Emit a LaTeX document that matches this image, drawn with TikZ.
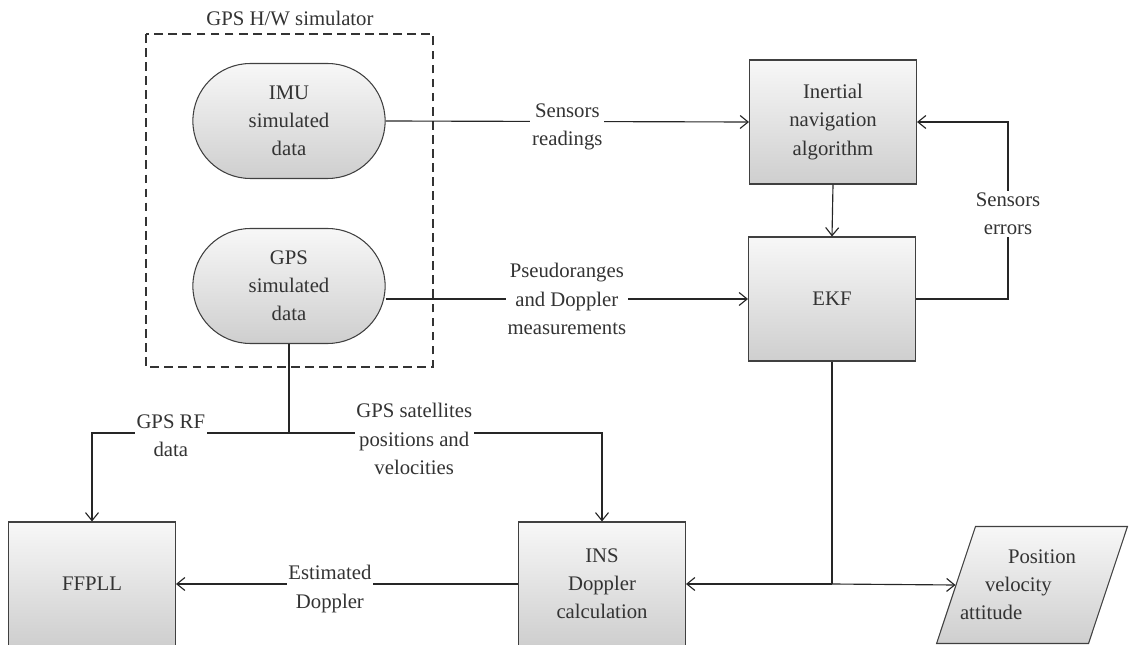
\documentclass[tikz,border=0pt]{standalone}
\usepackage{fontspec}
\setmainfont{Liberation Serif}
\usetikzlibrary{arrows.meta,shapes.misc,shapes.geometric}

\begin{document}
\begin{tikzpicture}[x=0.02cm, y=-0.02cm, >={Straight Barb[length=0.16cm,width=0.26cm]},
        font=\fontsize{11.8}{16}\selectfont,
        every node/.style={text=black!80},
        block/.style={draw=black!75, line width=0.6pt, top color=gray!6, bottom color=gray!38,
            minimum width=3.34cm, minimum height=2.48cm, align=center},
        simdata/.style={rounded rectangle, draw=black!75, line width=0.6pt, top color=gray!6,
            bottom color=gray!38, minimum width=4.08cm, minimum height=2.3cm, align=center},
        outdata/.style={trapezium, trapezium left angle=71, trapezium right angle=109,
            trapezium stretches=true, draw=black!75, line width=0.6pt, top color=gray!6,
            bottom color=gray!38, minimum width=3.82cm, minimum height=2.34cm},
        lbl/.style={fill=white, align=center, inner sep=1pt},
        link/.style={draw=black!85, line width=0.65pt}]
        \clip (0,0) rectangle (1129,645);

        % simulator
        \draw[black!80, line width=0.6pt, dash pattern=on 5pt off 3pt] (146,34) rectangle (433,367);
        \node (simtitle) at (290,18) {GPS H/W simulator};
        \node[simdata] (imu) at (289,121) {IMU\\simulated\\data};
        \node[simdata] (gps) at (289,286) {GPS\\simulated\\data};

        % navigation
        \node[block] (ina) at (833,122) {Inertial\\navigation\\algorithm};
        \node[block] (ekf) at (832,299) {EKF};
        \node[block] (ffpll) at (92,584) {FFPLL};
        \node[block] (ins) at (602,584) {INS\\Doppler\\calculation};
        \node[outdata, label={[align=left, xshift=-0.28cm]center:\hspace*{0.96cm}Position\\
            \hspace*{0.5cm}velocity\\attitude}] (pv) at (1032,585) {};

        \draw[link, ->] (imu.east) -- node[lbl, yshift=-0.1cm] {Sensors\\readings} (ina.west);
        \draw[link, ->] (gps.east |- ekf.west) -- node[lbl] {Pseudoranges\\and Doppler\\measurements} (ekf.west);
        \draw[link, ->] (ina.south) -- (ekf.north);
        \draw[link, ->] (ekf.east) -- ++(92,0) |- node[lbl, pos=0.24] {Sensors\\errors} (ina.east);

        \coordinate (gpsjoin) at (gps.south |- 0,433);
        \draw[link] (gps.south) -- (gpsjoin);
        \draw[link, ->] (gpsjoin) -| node[lbl, pos=0.3, yshift=-0.05cm] {GPS RF\\data} (ffpll.north);
        \draw[link, ->] (gpsjoin) -| node[lbl, pos=0.2, yshift=-0.12cm] {GPS satellites\\positions and\\velocities} (ins.north);

        \coordinate (ekfjoin) at (ekf.south |- ins.east);
        \draw[link] (ekf.south) -- (ekfjoin);
        \draw[link, ->] (ekfjoin) -- (ins.east);
        \draw[link, ->] (ekfjoin) -- (pv.west);
        \draw[link, ->] (ins.west) -- node[lbl, pos=0.55, yshift=-0.1cm] {Estimated\\Doppler} (ffpll.east);
    \end{tikzpicture}
\end{document}
